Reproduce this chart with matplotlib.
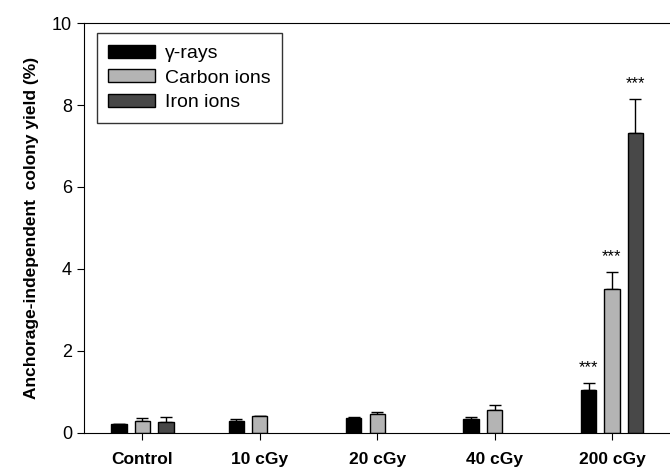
import numpy as np
from matplotlib import pyplot as plt

plt.rcParams['font.family'] = ['Liberation Sans', 'DejaVu Sans']

categories = ['Control', '10 cGy', '20 cGy', '40 cGy', '200 cGy']
series = ['γ-rays', 'Carbon ions', 'Iron ions']
gamma = [0.22, 0.29, 0.37, 0.33, 1.05]
gamma_err = [0.0, 0.05, 0.01, 0.05, 0.17]
carbon = [0.30, 0.41, 0.46, 0.56, 3.51]
carbon_err = [0.06, 0.01, 0.05, 0.11, 0.41]
iron = [0.26, np.nan, np.nan, np.nan, 7.32]
iron_err = [0.12, np.nan, np.nan, np.nan, 0.83]
stars = ['***', '***', '***']  # 200 cGy only

colors = ['#000000', '#b4b4b4', '#484848']

fig = plt.figure(figsize=(6.7, 4.71), dpi=100)
ax = fig.add_axes([0.125, 0.081, 0.876, 0.870])

x = np.arange(len(categories))
offs = [-0.2, 0.0, 0.2]
w = 0.13
vals = [gamma, carbon, iron]
errs = [gamma_err, carbon_err, iron_err]
for i in range(3):
    ax.bar(x + offs[i], vals[i], w, color=colors[i], edgecolor='black',
           linewidth=1.0, label=series[i], zorder=2)
    ax.errorbar(x + offs[i], vals[i], yerr=[np.zeros(len(x)), errs[i]],
                fmt='none', ecolor='black', elinewidth=1.0, capsize=4,
                capthick=1.0, zorder=1)
    top = vals[i][-1] + errs[i][-1]
    ax.text(x[-1] + offs[i], top + 0.2, stars[i], ha='center', va='bottom',
            fontsize=12)

ax.set_xlim(-0.5, 4.5)
ax.set_ylim(0, 10)
ax.set_yticks(range(0, 11, 2))
ax.set_xticks(x)
ax.set_xticklabels(categories, fontweight='bold', fontsize=12.5)
ax.tick_params(axis='y', labelsize=13, direction='out', length=5)
ax.tick_params(axis='x', direction='out', length=5, pad=9)
ax.set_ylabel('Anchorage-independent  colony yield (%)', fontweight='bold',
              fontsize=12.5, labelpad=9)

leg = ax.legend(loc='upper left', bbox_to_anchor=(0.022, 0.976), fontsize=14,
                frameon=True, fancybox=False, edgecolor='black',
                borderaxespad=0, handlelength=2.4, handleheight=0.65,
                handletextpad=0.5, labelspacing=0.38, borderpad=0.6)
leg.get_frame().set_linewidth(1.0)

plt.savefig('out.png', dpi=100)
